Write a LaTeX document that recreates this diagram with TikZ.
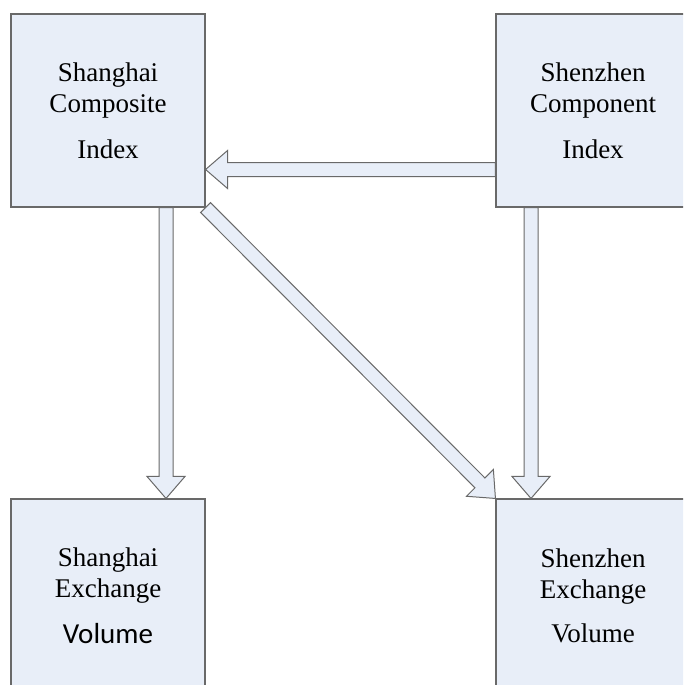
\documentclass[tikz,border=0pt]{standalone}
\usepackage{fontspec}
\setmainfont{Liberation Serif}
\newfontfamily\carlito{Carlito}
\usetikzlibrary{calc}
\definecolor{boxfill}{RGB}{232,238,248}
\definecolor{boxline}{RGB}{105,105,105}
% block arrow from tail #1 to tip #2
\newcommand{\blockarrow}[2]{%
  \coordinate (ah) at ($(#2)!22pt!(#1)$);
  \draw[blockarr] ($(#1)!7pt!90:(#2)$) -- ($(ah)!7pt!90:(#2)$) -- ($(ah)!19pt!90:(#2)$)
    -- (#2) -- ($(ah)!19pt!-90:(#2)$) -- ($(ah)!7pt!-90:(#2)$) -- ($(#1)!7pt!-90:(#2)$) -- cycle;}
\begin{document}
\begin{tikzpicture}[x=1pt, y=-1pt,
    indexbox/.style={draw=boxline, fill=boxfill, line width=1.1pt, minimum width=194pt,
      minimum height=193pt, inner sep=0pt, align=center, font=\fontsize{27}{31}\selectfont},
    blockarr/.style={draw=boxline, fill=boxfill, line width=1pt, line join=miter}]
		\useasboundingbox (0,0) rectangle (683,685);
		\clip (0,0) rectangle (683,685);
		
		\node[indexbox] (shc) at (108, 110.5) {Shanghai\\Composite\\[15pt]Index};
		\node[indexbox] (szc) at (593, 110.5) {Shenzhen\\Component\\[15pt]Index};
		\node[indexbox] (shv) at (108, 595.5) {Shanghai\\Exchange\\[15pt]{\carlito\fontsize{29}{31}\selectfont Volume}};
		\node[indexbox] (szv) at (593, 595.5) {Shenzhen\\Exchange\\[13pt]Volume};
		
		\coordinate (t1) at ($(szc.west)+(0,59)$);
		\coordinate (h1) at ($(shc.east)+(0,59)$);
		\coordinate (t2) at ($(shc.south)+(58,0)$);
		\coordinate (h2) at ($(shv.north)+(58,0)$);
		\coordinate (t3) at ($(szc.south)+(-62,0)$);
		\coordinate (h3) at ($(szv.north)+(-62,0)$);
		
		\blockarrow{t1}{h1}
		\blockarrow{t2}{h2}
		\blockarrow{t3}{h3}
		\blockarrow{shc.south east}{szv.north west}
	\end{tikzpicture}
\end{document}
